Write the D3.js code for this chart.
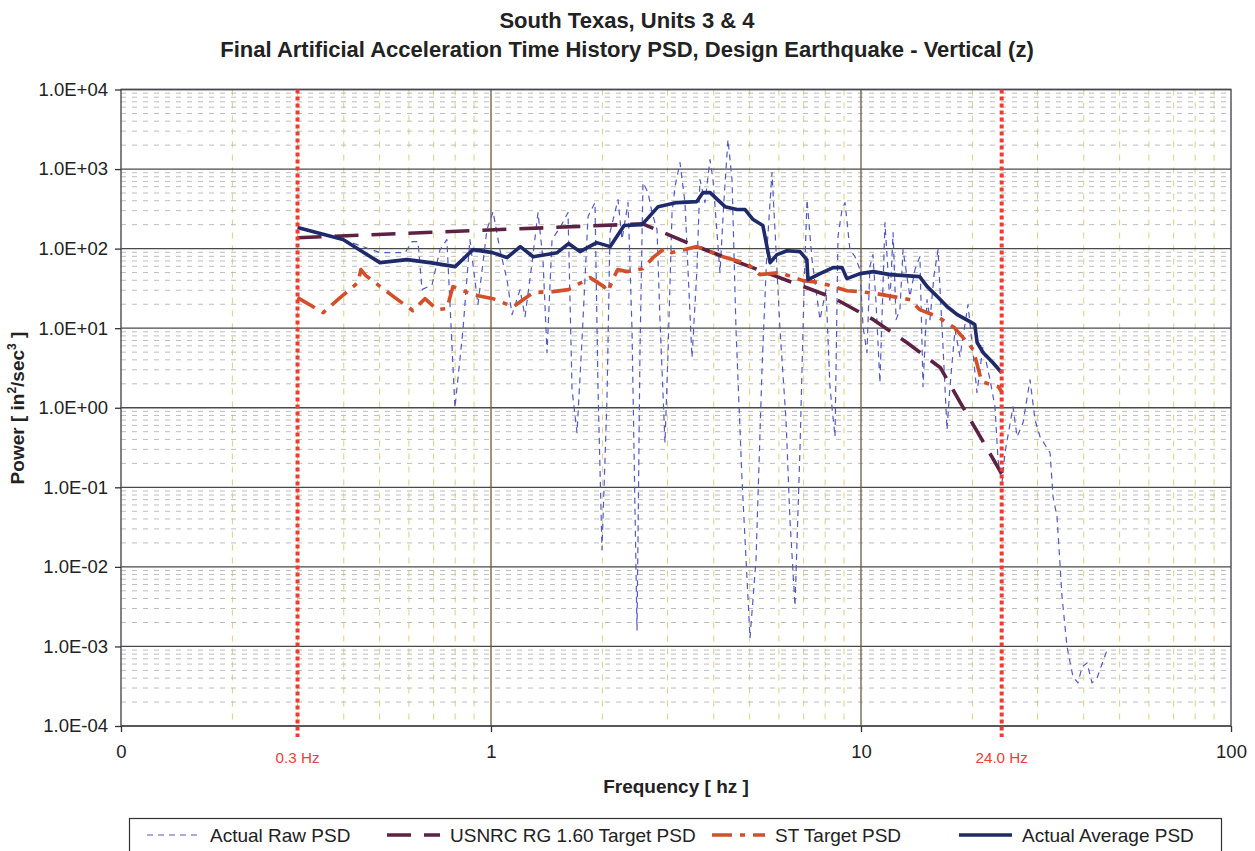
<!DOCTYPE html>
<html>
<head>
<meta charset="utf-8">
<script src="https://cdn.jsdelivr.net/npm/d3@7"></script>
<style>
  body { margin: 0; background: #fff; }
  svg { display: block; font-family: "Liberation Sans", Arial, sans-serif; }
</style>
</head>
<body>
<svg id="chart" width="1255" height="851"></svg>
<script>
// ---- Data: [frequency (Hz), power (in^2/sec^3)] ----
const rawPSD = [
  [0.305,184],[0.398,130],[0.501,89.1],[0.586,89.1],[0.612,122.6],[0.635,122.6],[0.651,30.5],
  [0.693,35.3],[0.728,97],[0.760,130],[0.799,1.0],[0.840,9.57],[0.877,130],[0.922,19.8],
  [0.975,173],[1.013,292],[1.057,97],[1.105,40.7],[1.140,14.8],[1.198,30.5],[1.236,14.0],
  [1.291,66.7],[1.340,284],[1.382,72.8],[1.417,4.92],[1.462,130],[1.536,184],[1.615,284],
  [1.656,1.68],[1.708,0.485],[1.762,7.16],[1.829,253],[1.910,379],[1.946,1.84],[1.995,0.0164],
  [2.058,1.26],[2.097,159],[2.204,413],[2.260,130],[2.346,379],[2.405,9.57],[2.481,0.00161],
  [2.527,4.92],[2.575,676],[2.657,506],[2.724,284],[2.810,173],[2.862,12.8],[2.953,0.363],
  [3.009,4.92],[3.085,284],[3.143,602],[3.242,1208],[3.344,379],[3.407,54.5],[3.493,4.26],
  [3.603,54.5],[3.671,738],[3.787,379],[3.907,1316],[3.981,738],[4.158,49.9],[4.263,413],
  [4.370,2350],[4.481,738],[4.594,9.57],[4.769,0.124],[5.012,0.00128],[5.203,0.0122],
  [5.400,3.01],[5.570,97],[5.747,904],[5.892,97],[6.040,9.57],[6.271,0.706],[6.427,0.039],
  [6.631,0.00323],[6.840,0.296],[7.015,30.5],[7.147,413],[7.372,72.8],[7.746,12.8],
  [8.043,30.5],[8.243,1.84],[8.506,0.432],[8.666,141.6],[8.885,310],[9.054,379],[9.335,97],
  [9.634,79.3],[9.934,54.5],[10.13,10.4],[10.38,4.92],[10.57,59.4],[10.77,84.1],[10.98,20.9],
  [11.25,2.06],[11.61,212],[11.97,20.9],[12.21,159],[12.44,12.8],[12.74,17.1],[12.99,97],
  [13.56,24.9],[13.99,54.5],[14.43,79.3],[14.71,1.84],[15.08,22.8],[15.36,12.8],[15.76,47.1],
  [16.15,97],[16.66,5.85],[17.08,0.528],[17.40,1.84],[17.95,9.57],[18.52,4.38],[19.46,19.8],
  [19.95,6.57],[20.58,1.55],[21.36,5.85],[22.32,2.25],[23.02,1.03],[23.46,0.222],[24.05,0.114],
  [24.50,0.272],[25.75,1.03],[26.41,0.432],[27.41,0.648],[28.63,2.25],[29.53,0.706],
  [30.47,0.432],[31.43,0.343],[32.43,0.272],[33.04,0.076],[33.87,0.0426],[34.94,0.0042],
  [36.05,0.000986],[37.41,0.000413],[38.60,0.000348],[39.57,0.000552],[40.83,0.00062],
  [42.11,0.000348],[43.44,0.000402],[46.24,0.0009]
];

const usnrcPSD = [
  [0.30,137],[2.57,205],[3.39,119],[4.24,79],[6.55,37.4],[8.40,24.2],[10.8,12.8],
  [13.3,6.6],[16.4,3.18],[18.7,1.09],[21.4,0.373],[24.0,0.148]
];

const stPSD = [
  [0.30,24.2],[0.352,15.7],[0.391,24.2],[0.437,37.4],[0.445,54.5],[0.459,45.7],[0.550,24.2],
  [0.615,16.6],[0.663,23.5],[0.715,17.1],[0.760,17.6],[0.789,33.3],[0.894,26.4],[1.013,23.5],
  [1.147,18.6],[1.30,28.0],[1.471,28.8],[1.62,30.5],[1.852,43.2],[2.02,33.3],[2.07,28.8],
  [2.14,42.0],[2.20,54.5],[2.33,51.4],[2.57,56.0],[2.74,77.0],[2.94,100],[3.08,89.1],
  [3.60,106],[4.24,79.0],[4.92,64.7],[5.33,47.1],[6.04,49.9],[6.97,39.6],[7.75,37.4],
  [9.16,29.6],[9.94,28.8],[11.0,27.2],[13.6,22.8],[14.4,17.1],[16.1,14.0],[17.9,10.1],
  [19.3,6.76],[20.1,5.37],[21.2,2.12],[23.5,1.84],[24.0,1.59]
];

const avgPSD = [
  [0.30,184],[0.398,130],[0.501,66.7],[0.593,72.8],[0.684,66.7],[0.800,59.4],[0.894,97.1],
  [1.01,89],[1.105,77],[1.20,106],[1.30,79],[1.51,89],[1.62,115.7],[1.74,91.7],[1.93,119],
  [2.10,106],[2.29,195],[2.56,200],[2.83,337],[3.18,379],[3.60,390],[3.74,506],[3.91,506],
  [4.29,337],[4.62,310],[4.86,310],[5.11,232],[5.43,195],[5.68,66.7],[5.93,84],[6.31,94],
  [6.84,91.7],[7.14,72.8],[7.19,40.7],[7.75,48.5],[8.40,57.7],[8.89,57.7],[9.16,42],
  [9.94,48.5],[10.8,51.4],[12.0,47.1],[14.4,44.5],[15.1,33.3],[16.1,24.9],[17.1,18.6],
  [18.2,14.8],[19.7,12.1],[20.3,11.1],[20.6,6.6],[21.4,4.9],[22.7,3.7],[24.0,2.75]
];

// frequency band limits
const bandFreq = [0.3, 24.0];
const bandLabels = ["0.3 Hz", "24.0 Hz"];

// axis ticks
const xTickValues = [0.1, 1, 10, 100];
const xTickLabels = ["0", "1", "10", "100"];
const yTickValues = [1e-4, 1e-3, 1e-2, 1e-1, 1e0, 1e1, 1e2, 1e3, 1e4];
const yTickLabels = ["1.0E-04","1.0E-03","1.0E-02","1.0E-01","1.0E+00","1.0E+01","1.0E+02","1.0E+03","1.0E+04"];

const seriesNames = ["Actual Raw PSD", "USNRC RG 1.60 Target PSD", "ST Target PSD", "Actual Average PSD"];

// ---- Layout ----
const svg = d3.select("#chart");
const plot = { left: 121, right: 1231, top: 89.5, bottom: 726 };

const x = d3.scaleLog().domain([0.1, 100]).range([plot.left, plot.right]);
const y = d3.scaleLog().domain([1e-4, 1e4]).range([plot.bottom, plot.top]);

const styles = [
  { color: "#5358c4", width: 1.2, dash: "6,5" },
  { color: "#5c2143", width: 3.6, dash: "24,13" },
  { color: "#d24f2a", width: 3.6, dash: "20,8,5,8" },
  { color: "#1f2a6b", width: 3.6, dash: null }
];

// ---- Gridlines ----
const grid = svg.append("g");
const minorY = [];
for (let e = -4; e < 4; e++) for (let m = 2; m <= 9; m++) minorY.push(m * Math.pow(10, e));
const minorX = [];
for (let e = -1; e < 2; e++) for (let m = 2; m <= 9; m++) minorX.push(m * Math.pow(10, e));

grid.selectAll(".minx").data(minorX).join("line")
  .attr("x1", d => x(d)).attr("x2", d => x(d))
  .attr("y1", plot.top).attr("y2", plot.bottom)
  .attr("stroke", "#ddd07a").attr("stroke-width", 1)
  .attr("stroke-dasharray", "6,7");

grid.selectAll(".miny").data(minorY).join("line")
  .attr("x1", plot.left).attr("x2", plot.right)
  .attr("y1", d => y(d)).attr("y2", d => y(d))
  .attr("stroke", "#bdbdbd").attr("stroke-width", 1)
  .attr("stroke-dasharray", "5,6");

grid.selectAll(".majy").data(yTickValues).join("line")
  .attr("x1", plot.left).attr("x2", plot.right)
  .attr("y1", d => y(d)).attr("y2", d => y(d))
  .attr("stroke", "#4a4a4a").attr("stroke-width", 1.3);

grid.selectAll(".majx").data([1, 10]).join("line")
  .attr("x1", d => x(d)).attr("x2", d => x(d))
  .attr("y1", plot.top).attr("y2", plot.bottom)
  .attr("stroke", "#6b5a3a").attr("stroke-width", 1.3);

// plot frame
svg.append("rect")
  .attr("x", plot.left).attr("y", plot.top)
  .attr("width", plot.right - plot.left).attr("height", plot.bottom - plot.top)
  .attr("fill", "none").attr("stroke", "#4a4a55").attr("stroke-width", 1.4);

// ---- Axes ----
const yAxis = d3.axisLeft(y).tickValues(yTickValues)
  .tickFormat((d, i) => yTickLabels[i]).tickSizeOuter(0).tickSize(6).tickPadding(7);
const gy = svg.append("g").attr("transform", `translate(${plot.left},0)`).call(yAxis);
gy.select(".domain").remove();
gy.selectAll("line").attr("stroke", "#333").attr("stroke-width", 1.3);
gy.selectAll("text").attr("font-size", 18.5).attr("fill", "#222")
  .attr("font-family", "'Liberation Sans', Arial, sans-serif");

const xAxis = d3.axisBottom(x).tickValues(xTickValues)
  .tickFormat((d, i) => xTickLabels[i]).tickSizeOuter(0).tickSize(6).tickPadding(13);
const gx = svg.append("g").attr("transform", `translate(0,${plot.bottom})`).call(xAxis);
gx.select(".domain").remove();
gx.selectAll("line").attr("stroke", "#333").attr("stroke-width", 1.3);
gx.selectAll("text").attr("font-size", 18.5).attr("fill", "#222")
  .attr("font-family", "'Liberation Sans', Arial, sans-serif");

// ---- Series ----
svg.append("clipPath").attr("id", "plotClip").append("rect")
  .attr("x", plot.left).attr("y", plot.top)
  .attr("width", plot.right - plot.left).attr("height", plot.bottom - plot.top);

const line = d3.line().x(d => x(d[0])).y(d => y(d[1]));
const series = [rawPSD, usnrcPSD, stPSD, avgPSD];
const gs = svg.append("g").attr("clip-path", "url(#plotClip)");
series.forEach((s, i) => {
  gs.append("path").datum(s)
    .attr("d", line)
    .attr("fill", "none")
    .attr("stroke", styles[i].color)
    .attr("stroke-width", styles[i].width)
    .attr("stroke-dasharray", styles[i].dash)
    .attr("stroke-linejoin", "round");
});

// ---- Band limit markers ----
svg.selectAll(".band").data(bandFreq).join("line")
  .attr("x1", d => x(d)).attr("x2", d => x(d))
  .attr("y1", plot.top).attr("y2", plot.bottom + 11)
  .attr("stroke", "#f23b30").attr("stroke-width", 4)
  .attr("stroke-dasharray", "4,3");

svg.selectAll(".bandlbl").data(bandFreq).join("text")
  .attr("x", d => x(d)).attr("y", 763)
  .attr("text-anchor", "middle")
  .attr("font-size", 15.2).attr("fill", "#ee4035")
  .text((d, i) => bandLabels[i]);

// ---- Titles ----
svg.append("text").attr("x", 627).attr("y", 28).attr("text-anchor", "middle")
  .attr("font-size", 22).attr("font-weight", "bold").attr("fill", "#222")
  .text("South Texas, Units 3 & 4");
svg.append("text").attr("x", 627).attr("y", 57).attr("text-anchor", "middle")
  .attr("font-size", 22).attr("font-weight", "bold").attr("fill", "#222")
  .text("Final Artificial Acceleration Time History PSD, Design Earthquake - Vertical (z)");

svg.append("text").attr("x", 676).attr("y", 793).attr("text-anchor", "middle")
  .attr("font-size", 19).attr("font-weight", "bold").attr("fill", "#222")
  .text("Frequency [ hz ]");

const yt = svg.append("text")
  .attr("transform", "translate(24,408) rotate(-90)")
  .attr("text-anchor", "middle")
  .attr("font-size", 19).attr("font-weight", "bold").attr("fill", "#222");
yt.append("tspan").text("Power [ in");
yt.append("tspan").attr("font-size", 12).attr("dy", -8).text("2");
yt.append("tspan").attr("dy", 8).text("/sec");
yt.append("tspan").attr("font-size", 12).attr("dy", -8).text("3");
yt.append("tspan").attr("dy", 8).text(" ]");

// ---- Legend ----
const legend = svg.append("g");
legend.append("rect").attr("x", 129.5).attr("y", 818.5).attr("width", 1092).attr("height", 40)
  .attr("fill", "#fff").attr("stroke", "#333").attr("stroke-width", 1.2);
const legendX = [147, 387, 712, 959];
seriesNames.forEach((name, i) => {
  legend.append("line")
    .attr("x1", legendX[i]).attr("x2", legendX[i] + 53)
    .attr("y1", 835).attr("y2", 835)
    .attr("stroke", styles[i].color)
    .attr("stroke-width", styles[i].width)
    .attr("stroke-dasharray", styles[i].dash);
  legend.append("text")
    .attr("x", legendX[i] + 63).attr("y", 842)
    .attr("font-size", 19).attr("fill", "#222")
    .text(name);
});
</script>
</body>
</html>
